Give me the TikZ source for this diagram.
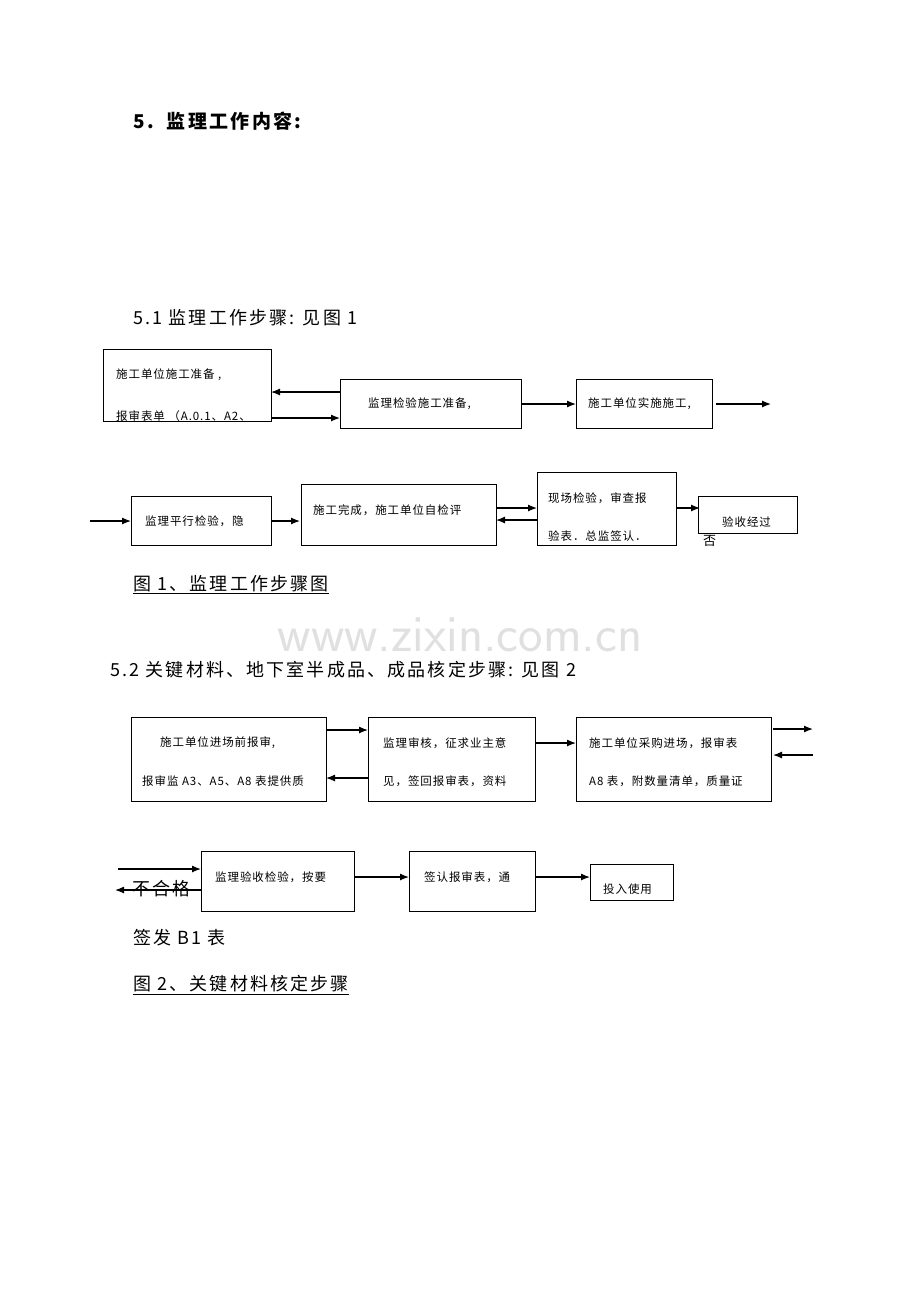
\documentclass[tikz,border=0pt]{standalone}
\usepackage{fontspec}
\setmainfont{Liberation Serif}
\newfontfamily\cjk[LetterSpace=8]{Noto Sans CJK SC}
\newfontfamily\cjkh[LetterSpace=12]{Noto Sans CJK SC}
\usetikzlibrary{arrows.meta}
\begin{document}
\begin{tikzpicture}[x=1pt,y=-1pt,
  bx/.style={draw,line width=0.9pt},
  ar/.style={-{Latex[length=9pt,width=7pt]},line width=1.2pt},
  t/.style={font=\cjk\fontsize{11.5}{13}\selectfont,inner sep=0pt,anchor=west},
  h/.style={font=\cjkh\fontsize{18}{20}\selectfont,inner sep=0pt,anchor=west}]
\useasboundingbox[fill=white] (0,0) rectangle (920,1302);
\node[h,font=\cjkh\bfseries\fontsize{19}{20}\selectfont] (t0) at (133,121) {5.\ \ 监理工作内容:};
\node[h] (t1) at (133,318) {5.1 监理工作步骤: 见图 1};
\node[h] (c1) at (133,585) {\underline{图 1、监理工作步骤图}};
\node[font=\sffamily\fontsize{52}{56}\selectfont,text=black!12] (wm) at (460,635) {www.zixin.com.cn};
\node[h] (t2) at (110,670) {5.2 关键材料、地下室半成品、成品核定步骤: 见图 2};
\node[h] (s1) at (133,938) {签发 B1 表};
\node[h] (c2) at (133,985) {\underline{图 2、关键材料核定步骤}};
% fig1 row1
\draw[bx] (103,349) rectangle (271,421); \node[t] (a1) at (116,375) {施工单位施工准备 ,}; \node[t] (a2) at (116,416) {报审表单 （A.0.1、A2、};
\fill[white] (100,422) rectangle (275,432);
\draw[bx] (340,379) rectangle (521,428); \node[t] (b) at (368,404) {监理检验施工准备,};
\draw[bx] (576,379) rectangle (712,428); \node[t] (c) at (588,404) {施工单位实施施工,};
\draw[ar] (340,392) -- (271,392); \draw[ar] (271,418) -- (340,418);
\draw[ar] (521,404) -- (576,404); \draw[ar] (716,404) -- (771,404);
% fig1 row2
\draw[bx] (131,496) rectangle (271,545); \node[t] (d) at (145,521) {监理平行检验，隐};
\draw[bx] (301,484) rectangle (496,545); \node[t] (e) at (313,510) {施工完成，施工单位自检评};
\draw[bx] (537,472) rectangle (676,545); \node[t] (f1) at (548,498) {现场检验，审查报}; \node[t] (f2) at (548,536) {验表．总监签认．};
\fill[white] (535,546) rectangle (680,555);
\draw[bx] (698,496) rectangle (797,533); \node[t] (g) at (722,522) {验收经过};
\node[t,font=\cjk\fontsize{13}{15}\selectfont] (no) at (703,541) {否};
\draw[ar] (90,521) -- (131,521); \draw[ar] (271,521) -- (300,521);
\draw[ar] (496,508) -- (537,508); \draw[ar] (537,520) -- (496,520);
\draw[ar] (676,508) -- (700,508);
% fig2 row1
\draw[bx] (131,717) rectangle (326,801); \node[t] (h1) at (160,743) {施工单位进场前报审,}; \node[t] (h2) at (142,781) {报审监 A3、A5、A8 表提供质};
\draw[bx] (368,717) rectangle (535,801); \node[t] (i1) at (383,743) {监理审核，征求业主意}; \node[t] (i2) at (383,781) {见，签回报审表，资料};
\draw[bx] (576,717) rectangle (771,801); \node[t] (j1) at (589,743) {施工单位采购进场，报审表}; \node[t] (j2) at (589,781) {A8 表，附数量清单，质量证};
\draw[ar] (326,730) -- (368,730); \draw[ar] (368,778) -- (326,778);
\draw[ar] (535,743) -- (576,743);
\draw[ar] (773,729) -- (813,729); \draw[ar] (813,755) -- (773,755);
% fig2 row2
\draw[bx] (201,851) rectangle (354,911); \node[t] (k) at (215,877) {监理验收检验，按要};
\draw[bx] (409,851) rectangle (535,911); \node[t] (l) at (424,877) {签认报审表，通};
\draw[bx] (590,864) rectangle (673,900); \node[t] (m) at (603,889) {投入使用};
\node[h] (bhg) at (132,889) {不合格};
\draw[ar] (118,869) -- (201,869); \draw[ar] (201,890) -- (115,890);
\draw[ar] (354,877) -- (409,877); \draw[ar] (535,877) -- (590,877);
\end{tikzpicture}
\end{document}
